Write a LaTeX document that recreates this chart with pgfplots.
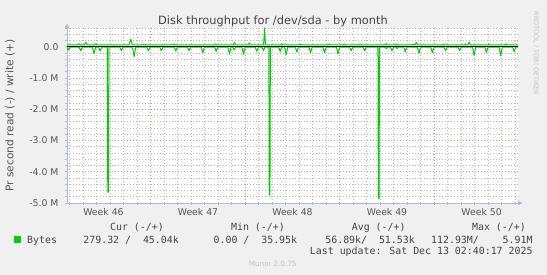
\documentclass[border=0pt]{standalone}
\usepackage{fontspec}
\setmainfont{DejaVu Sans}
\newfontfamily\monofont{DejaVu Sans Mono}
\usepackage{pgfplots}
\pgfplotsset{compat=1.18}
\usetikzlibrary{arrows.meta}
\definecolor{bgc}{HTML}{F0F0F0}
\definecolor{mgreen}{HTML}{00CC00}
\definecolor{axc}{HTML}{B4B4E6}
\definecolor{mgrid}{HTML}{E09090}
\definecolor{ngrid}{HTML}{B8B8B8}
\definecolor{txt}{HTML}{555555}
\definecolor{ttl}{HTML}{444444}
\definecolor{faint}{HTML}{C4C4C4}
\begin{document}
\begin{tikzpicture}
\path[use as bounding box] (0,0) rectangle (547pt,-275pt);
\fill[bgc] (0,0) rectangle (547pt,-275pt);
\begin{axis}[
  at={(67pt,-203pt)}, anchor=south west,
  scale only axis, width=451pt, height=175pt,
  xmin=0, xmax=33.4, ymin=-5, ymax=0.6,
  axis background/.style={fill=white},
  axis lines=left,
  axis line style={draw=axc, line width=0.9pt},
  x axis line style={-{Latex[length=5pt,width=5pt]}, shorten >=-5pt},
  y axis line style={-{Latex[length=5pt,width=5pt]}, shorten >=-5pt},
  xtick={6.2,13.2,20.2,27.2}, xticklabels={},
  extra x ticks={2.7,9.7,16.7,23.7,30.7},
  extra x tick labels={Week 46,Week 47,Week 48,Week 49,Week 50},
  extra x tick style={grid=none, major tick length=0pt},
  minor xtick={0.2,1.2,2.2,3.2,4.2,5.2,7.2,8.2,9.2,10.2,11.2,12.2,14.2,15.2,16.2,17.2,18.2,19.2,21.2,22.2,23.2,24.2,25.2,26.2,28.2,29.2,30.2,31.2,32.2,33.2},
  ytick={-5,-4,-3,-2,-1,0},
  yticklabels={-5.0 M,-4.0 M,-3.0 M,-2.0 M,-1.0 M,0.0},
  minor ytick={-4.8,-4.6,-4.4,-4.2,-3.8,-3.6,-3.4,-3.2,-2.8,-2.6,-2.4,-2.2,-1.8,-1.6,-1.4,-1.2,-0.8,-0.6,-0.4,-0.2,0.2,0.4,0.6},
  grid=both,
  major grid style={draw=mgrid, line width=0.8pt, dash pattern=on 1pt off 2pt},
  minor grid style={draw=ngrid, line width=0.8pt, dash pattern=on 1pt off 2pt},
  tick align=outside, major tick length=2pt, minor tick length=2pt,
  tick style={draw=axc, line width=0.7pt},
  tick label style={font=\fontsize{9.3}{11}\selectfont, text=txt},
  yticklabel style={xshift=-3pt},
  xticklabel style={yshift=-2pt},
  clip=true,
]
% read (negative)
\addplot[mgreen, line width=1pt, line join=round] coordinates {
(0,-0.01)(0.1,-0.11)(0.22,-0.01)
(0.9,-0.01)(1.02,-0.13)(1.14,-0.01)
(1.88,-0.01)(2.0,-0.22)(2.12,-0.01)
(2.33,-0.01)(2.45,-0.13)(2.57,-0.01)
(2.99,-0.01)(3.02,-4.65)(3.07,-4.65)(3.10,-0.01)
(3.91,-0.01)(4.03,-0.13)(4.15,-0.01)
(4.85,-0.01)(4.97,-0.32)(5.09,-0.01)
(5.91,-0.01)(6.03,-0.13)(6.15,-0.01)
(6.87,-0.01)(6.99,-0.13)(7.11,-0.01)
(7.94,-0.01)(8.06,-0.13)(8.18,-0.01)
(8.92,-0.01)(9.04,-0.13)(9.16,-0.01)
(9.94,-0.01)(10.06,-0.19)(10.18,-0.01)
(10.93,-0.01)(11.05,-0.15)(11.17,-0.01)
(11.91,-0.01)(12.03,-0.24)(12.15,-0.01)
(12.28,-0.01)(12.38,-0.1)(12.48,-0.01)
(12.95,-0.01)(13.07,-0.24)(13.19,-0.01)
(13.94,-0.01)(14.06,-0.15)(14.18,-0.01)
(14.45,-0.01)(14.55,-0.13)(14.65,-0.01)
(14.95,-0.01)(14.98,-4.75)(15.03,-4.75)(15.06,-0.01)
(15.67,-0.01)(15.79,-0.15)(15.91,-0.01)
(16.11,-0.01)(16.23,-0.26)(16.35,-0.01)
(16.91,-0.01)(17.03,-0.17)(17.15,-0.01)
(17.92,-0.01)(18.04,-0.19)(18.16,-0.01)
(18.95,-0.01)(19.07,-0.19)(19.19,-0.01)
(19.95,-0.01)(20.07,-0.23)(20.19,-0.01)
(20.93,-0.01)(21.05,-0.13)(21.17,-0.01)
(21.92,-0.01)(22.04,-0.13)(22.16,-0.01)
(23.03,-0.01)(23.06,-4.85)(23.11,-4.85)(23.14,-0.01)
(23.55,-0.01)(23.65,-0.06)(23.75,-0.01)
(23.95,-0.01)(24.07,-0.13)(24.19,-0.01)
(24.36,-0.01)(24.46,-0.06)(24.56,-0.01)
(24.93,-0.01)(25.05,-0.16)(25.17,-0.01)
(25.95,-0.01)(26.07,-0.21)(26.19,-0.01)
(26.94,-0.01)(27.06,-0.19)(27.18,-0.01)
(27.92,-0.01)(28.04,-0.13)(28.16,-0.01)
(28.96,-0.01)(29.08,-0.13)(29.2,-0.01)
(30.03,-0.01)(30.15,-0.28)(30.27,-0.01)
(30.94,-0.01)(31.06,-0.19)(31.18,-0.01)
(32.0,-0.01)(32.12,-0.28)(32.24,-0.01)
(32.99,-0.01)(33.11,-0.16)(33.23,-0.01)
(33.4,-0.01)
};
% write (positive)
\addplot[mgreen, line width=1pt, line join=round] coordinates {
(0,0.06)(0.8,0.06)(0.9,0.1)(1.0,0.06)(1.3,0.06)(1.4,0.14)(1.5,0.06)(2.0,0.06)(2.1,0.1)(2.2,0.06)
(4.6,0.06)(4.72,0.24)(4.84,0.06)(5.6,0.06)(5.7,0.09)(5.8,0.06)(7.8,0.06)(7.9,0.09)(8.0,0.06)
(10.9,0.06)(11.0,0.09)(11.1,0.06)(12.3,0.06)(12.4,0.13)(12.5,0.06)(13.4,0.06)(13.5,0.12)(13.6,0.06)
(14.56,0.06)(14.63,0.6)(14.7,0.06)(15.8,0.06)(15.9,0.1)(16.0,0.06)(17.17,0.06)(17.27,0.09)(17.37,0.06)
(19.3,0.06)(19.4,0.09)(19.5,0.06)(20.4,0.06)(20.5,0.09)(20.6,0.06)(21.6,0.06)(21.7,0.09)(21.8,0.06)
(23.55,0.06)(23.65,0.1)(23.75,0.06)(24.3,0.06)(24.4,0.09)(24.5,0.06)(25.5,0.06)(25.6,0.09)(25.7,0.06)
(25.77,0.06)(25.87,0.14)(25.97,0.06)(27.8,0.06)(27.9,0.09)(28.0,0.06)(29.4,0.06)(29.5,0.09)(29.6,0.06)
(29.68,0.06)(29.78,0.14)(29.88,0.06)(31.16,0.06)(31.26,0.09)(31.36,0.06)(32.4,0.06)(32.5,0.09)(32.6,0.06)
(33.4,0.06)
};
% zero rule
\addplot[black, line width=1pt] coordinates {(0,0)(33.4,0)};
\end{axis}
% title
\node[anchor=base, text=ttl, font=\fontsize{11.4}{13}\selectfont, inner sep=0] at (273pt,-24.5pt) {Disk throughput for /dev/sda - by month};
% y label
\node[rotate=90, anchor=center, text=txt, font=\fontsize{10.6}{12}\selectfont, inner sep=0] at (10pt,-115.5pt) {Pr second read (-) / write (+)};
% side credit
\node[rotate=-90, anchor=center, text=faint, font=\fontsize{6.5}{7}\selectfont, inner sep=0] at (536pt,-53.5pt) {RRDTOOL / TOBI OETIKER};
% legend
\begin{scope}[every node/.style={inner sep=0, text=ttl, font=\monofont\fontsize{9.9}{11}\selectfont}]
\node[anchor=base east] at (164pt,-231pt) {Cur (-/+)};
\node[anchor=base east] at (285pt,-231pt) {Min (-/+)};
\node[anchor=base east] at (405.7pt,-231pt) {Avg (-/+)};
\node[anchor=base east] at (526pt,-231pt) {Max (-/+)};
\fill[mgreen] (13.5pt,-236pt) rectangle (20.5pt,-243pt);
\node[anchor=base west] at (27pt,-243.5pt) {Bytes};
\node[anchor=base east] at (179pt,-243.5pt) {279.32 /\ \ 45.04k};
\node[anchor=base east] at (297.3pt,-243.5pt) {0.00 /\ \ 35.95k};
\node[anchor=base east] at (415pt,-243.5pt) {56.89k/\ \ 51.53k};
\node[anchor=base east] at (532.7pt,-243.5pt) {112.93M/\ \ \ \ 5.91M};
\node[anchor=base east] at (532.7pt,-255pt) {Last update: Sat Dec 13 02:40:17 2025};
\end{scope}
\node[anchor=base, inner sep=0, text=faint, font=\fontsize{7.3}{8}\selectfont] at (272.7pt,-267pt) {Munin 2.0.75};
\end{tikzpicture}
\end{document}
